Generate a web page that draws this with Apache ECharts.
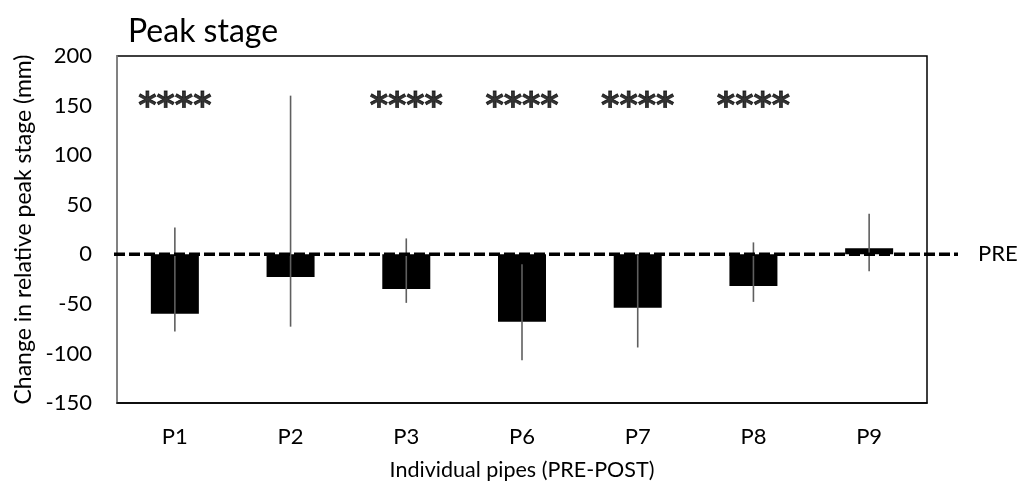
<!DOCTYPE html>
<html>
<head>
<meta charset="utf-8">
<script src="https://cdn.jsdelivr.net/npm/echarts@6/dist/echarts.min.js"></script>
<style>
  html,body{margin:0;padding:0;background:#fff;}
  #main{width:1021px;height:488px;}
</style>
</head>
<body>
<div id="main"></div>
<script>
// pipes and mean change (mm)
var pipes = ['P1', 'P2', 'P3', 'P6', 'P7', 'P8', 'P9'];
var meanChange = [-60, -23, -35, -68, -54, -32, 6];
// error bar ends
var errHigh = [27, 160, 16, -10, -1, 12, 41];
var errLow = [-78, -73, -49, -107, -94, -48, -17];
// significance marks
var stars = ['****', '', '****', '****', '****', '****', ''];
var starLevel = 155;
var yTicks = {min: -150, max: 200, step: 50};

var chart = echarts.init(document.getElementById('main'));
var txtFont = 'Lato, "Open Sans", sans-serif';

var errData = [];
for (var i = 0; i < pipes.length; i++) {
  errData.push([i, errLow[i], errHigh[i]]);
}
var starData = [];
for (var i = 0; i < pipes.length; i++) {
  if (stars[i] != '') starData.push({value: [i, starLevel], mark: stars[i]});
}

var option = {
  animation: false,
  title: {
    text: 'Peak stage',
    left: 123, top: 11,
    textStyle: {fontFamily: txtFont, fontSize: 32, fontWeight: 'normal', color: '#000'}
  },
  grid: {
    left: 117, right: 94, top: 56, bottom: 85,
    show: true, borderColor: '#000', borderWidth: 1.5, backgroundColor: '#fff'
  },
  xAxis: {
    type: 'category',
    data: pipes,
    name: 'Individual pipes (PRE-POST)',
    nameLocation: 'middle',
    nameGap: 56,
    nameTextStyle: {fontFamily: txtFont, fontSize: 21.5, color: '#000'},
    axisLine: {onZero: false, lineStyle: {color: '#000', width: 1.5}},
    axisTick: {show: false},
    axisLabel: {fontFamily: txtFont, fontSize: 22, color: '#000', margin: 23}
  },
  yAxis: {
    type: 'value',
    min: yTicks.min, max: yTicks.max, interval: yTicks.step,
    name: 'Change in relative peak stage (mm)',
    nameLocation: 'middle',
    nameGap: 79,
    nameTextStyle: {fontFamily: txtFont, fontSize: 23, color: '#000'},
    axisLine: {show: true, lineStyle: {color: '#999', width: 1.5}},
    axisTick: {show: false},
    splitLine: {show: false},
    axisLabel: {fontFamily: txtFont, fontSize: 22, color: '#000', margin: 25}
  },
  series: [{
    type: 'bar',
    data: meanChange,
    barWidth: 48,
    itemStyle: {color: '#000'},
    z: 2
  }, {
    // error bars
    type: 'custom',
    data: errData,
    z: 3,
    renderItem: function(params, api){
      var x = api.value(0);
      var lo = api.coord([x, api.value(1)]);
      var hi = api.coord([x, api.value(2)]);
      return {
        type: 'line',
        shape: {x1: lo[0], y1: lo[1], x2: hi[0], y2: hi[1]},
        style: {stroke: '#5f5f5f', lineWidth: 1.6}
      };
    }
  }, {
    // PRE reference line at zero, runs a bit past the frame
    type: 'custom',
    data: [[0, 0]],
    clip: false,
    z: 4,
    renderItem: function(params, api){
      var cs = params.coordSys;
      var y = api.coord([0, 0])[1];
      return {
        type: 'group',
        children: [{
          type: 'line',
          shape: {x1: cs.x - 3, y1: y, x2: cs.x + cs.width + 31, y2: y},
          style: {stroke: '#000', lineWidth: 3.5, lineDash: [11, 4]}
        }, {
          type: 'text',
          style: {
            text: 'PRE', x: cs.x + cs.width + 51, y: y,
            verticalAlign: 'middle', align: 'left',
            font: '22px ' + txtFont, fill: '#000'
          }
        }]
      };
    }
  }, {
    // significance stars
    type: 'scatter',
    data: starData,
    symbolSize: 0,
    z: 5,
    label: {
      show: true, position: 'inside', offset: [0, 7],
      formatter: function(p){ return p.data.mark; },
      fontFamily: '"DejaVu Sans", sans-serif', fontWeight: 'bold', fontSize: 35, color: '#000',
      textBorderColor: '#000', textBorderWidth: 0.8
    }
  }]
};
chart.setOption(option);
</script>
</body>
</html>
